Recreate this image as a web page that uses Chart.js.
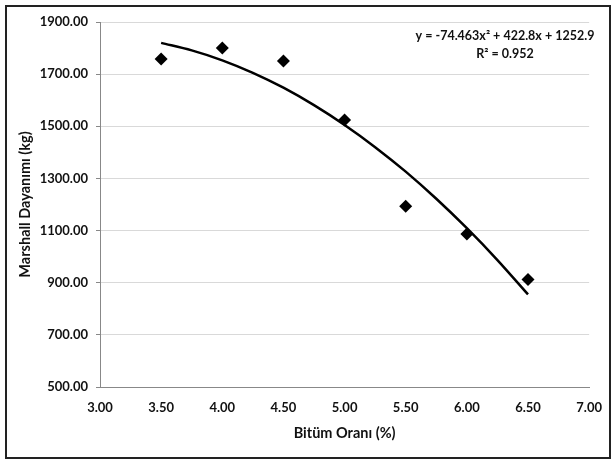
<!DOCTYPE html>
<html>
<head>
<meta charset="utf-8">
<script src="https://cdn.jsdelivr.net/npm/chart.js@4/dist/chart.umd.min.js"></script>
<style>
  body { margin: 0; background: #fff; }
  #wrap { position: relative; width: 615px; height: 460px; }
  #frame { position: absolute; left: 5px; top: 5px; width: 602px; height: 450px; border: 2px solid #222; pointer-events: none; }
</style>
</head>
<body>
<div id="wrap">
  <canvas id="chart0" width="615" height="460"></canvas>
  <div id="frame"></div>
</div>
<script>
const FONT = "Lato, 'Open Sans', sans-serif";

// measured points
const bitumen = [3.5, 4.0, 4.5, 5.0, 5.5, 6.0, 6.5];
const marshall = [1758, 1800, 1750, 1524, 1193, 1087, 912];

// trend line
const trendX = [3.5, 3.75, 4.0, 4.25, 4.5, 4.75, 5.0, 5.25, 5.5, 5.75, 6.0, 6.25, 6.5];
const trendY = [1820, 1791, 1753, 1705, 1648, 1581, 1505, 1420, 1326, 1222, 1109, 987, 855];

const eqLines = ["y = -74.463x² + 422.8x + 1252.9", "R² = 0.952"];

const xTitle = "Bitüm Oranı (%)";
const yTitle = "Marshall Dayanımı (kg)";

function toPts(xs, ys){
    var pts = [];
    for (var i = 0; i < xs.length; i++) pts.push({x: xs[i], y: ys[i]});
    return pts;
}

// trend equation label, top right of plot
const eqLabel = {
    id: "eqLabel",
    afterDraw: function(chart){
        var ctx = chart.ctx;
        ctx.save();
        ctx.fillStyle = "#111";
        ctx.font = "bold 12.5px " + FONT;
        ctx.textAlign = "center";
        ctx.textBaseline = "middle";
        ctx.fillText(eqLines[0], 505, 36);
        ctx.fillText(eqLines[1], 505, 54);
        ctx.restore();
    }
};

function drawChart(){
    var ctx = document.getElementById("chart0").getContext("2d");
    var chart = new Chart(ctx, {
        type: "scatter",
        data: {
            datasets: [
                {
                    label: "trend",
                    data: toPts(trendX, trendY),
                    showLine: true,
                    borderColor: "#000",
                    borderWidth: 2.5,
                    pointRadius: 0,
                    cubicInterpolationMode: "monotone"
                },
                {
                    label: "Marshall",
                    data: toPts(bitumen, marshall),
                    pointStyle: "rectRot",
                    pointRadius: 6.5,
                    backgroundColor: "#000",
                    borderColor: "#000",
                    borderWidth: 0
                }
            ]
        },
        plugins: [eqLabel],
        options: {
            responsive: false,
            animation: false,
            layout: { padding: { left: 0, top: 22, right: 22, bottom: 0 } },
            plugins: { legend: { display: false }, tooltip: { enabled: false } },
            scales: {
                x: {
                    type: "linear",
                    min: 3, max: 7,
                    afterFit: function(s){ s.height = 73; },
                    grid: { display: false, drawTicks: false },
                    border: { display: true, color: "#888", width: 1 },
                    ticks: {
                        stepSize: 0.5, padding: 13, color: "#111",
                        font: { family: FONT, size: 13, weight: "bold" },
                        callback: function(v){ return v.toFixed(2); }
                    },
                    title: {
                        display: true, text: xTitle, color: "#111",
                        font: { family: FONT, size: 14.5, weight: "bold" },
                        padding: { top: 0, bottom: 18 }
                    }
                },
                y: {
                    min: 500, max: 1900,
                    afterFit: function(s){ s.width = 100; },
                    grid: { color: "#d9d9d9", tickColor: "#888", tickLength: 4 },
                    border: { display: true, color: "#888", width: 1 },
                    ticks: {
                        stepSize: 200, padding: 8, color: "#111",
                        font: { family: FONT, size: 13, weight: "bold" },
                        callback: function(v){ return v.toFixed(2); }
                    },
                    title: {
                        display: true, text: yTitle, color: "#111",
                        font: { family: FONT, size: 14.5, weight: "bold" },
                        padding: { top: 17, bottom: 0 }
                    }
                }
            }
        }
    });
}

drawChart();
</script>
</body>
</html>
